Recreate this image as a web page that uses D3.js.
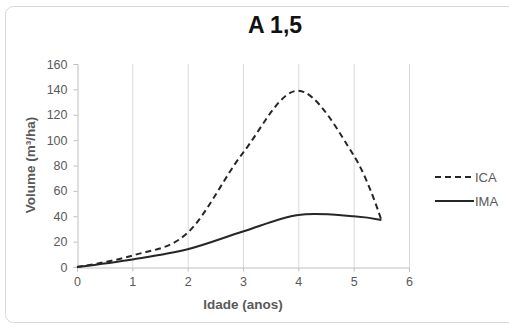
<!DOCTYPE html>
<html>
<head>
<meta charset="utf-8">
<script src="https://cdn.jsdelivr.net/npm/d3@7"></script>
<style>
  body { margin: 0; background: #fff; }
  text { font-family: "Liberation Sans", Arial, sans-serif; }
</style>
</head>
<body>
<div id="chart"></div>
<script>
// ages (anos)
const idade = [0, 1, 2, 3, 4, 5, 5.5];
// ICA and IMA volume (m3/ha)
const ica = [0, 9, 27, 90, 139, 88, 37];
const ima = [0, 6, 14, 28, 41, 40, 37];
const xTicks = [0, 1, 2, 3, 4, 5, 6];
const yTicks = [0, 20, 40, 60, 80, 100, 120, 140, 160];
const seriesNames = ["ICA", "IMA"];

const width = 509, height = 327;
const margin = {top: 64, right: 100, bottom: 60, left: 77};

const svg = d3.select("#chart").append("svg")
  .attr("width", width)
  .attr("height", height);

// outer frame
svg.append("rect")
  .attr("x", 5.5).attr("y", 6.5)
  .attr("width", 512).attr("height", 316)
  .attr("rx", 8)
  .attr("fill", "#fff")
  .attr("stroke", "#d9d9d9");

const x = d3.scaleLinear().domain([0, 6]).range([margin.left, 409]);
const y = d3.scaleLinear().domain([0, 160]).range([267, margin.top]);

// vertical gridlines
svg.append("g")
  .selectAll("line")
  .data(xTicks.slice(1))
  .enter().append("line")
  .attr("x1", d => x(d) + 0.5).attr("x2", d => x(d) + 0.5)
  .attr("y1", y(160)).attr("y2", y(0))
  .attr("stroke", "#d9d9d9");

// axes
const xAxis = svg.append("g")
  .attr("transform", "translate(0," + (y(0) + 0.5) + ")")
  .call(d3.axisBottom(x).tickValues(xTicks).tickFormat(d3.format("d")).tickSize(4).tickPadding(6));
const yAxis = svg.append("g")
  .attr("transform", "translate(" + (x(0) + 0.5) + ",0)")
  .call(d3.axisLeft(y).tickValues(yTicks).tickSize(4).tickPadding(6));

[xAxis, yAxis].forEach(a => {
  a.select(".domain").attr("stroke", "#bfbfbf");
  a.selectAll(".tick line").attr("stroke", "#bfbfbf");
  a.selectAll(".tick text")
    .attr("fill", "#595959")
    .style("font-size", "12.5px")
    .style("font-family", "'Liberation Sans', Arial, sans-serif");
});

// lines (Excel-like smoothing)
const line = d3.line()
  .x((d, i) => x(idade[i]))
  .y(d => y(d))
  .curve(d3.curveCardinal.tension(0));

svg.append("path")
  .datum(ica)
  .attr("d", line)
  .attr("fill", "none")
  .attr("stroke", "#262626")
  .attr("stroke-width", 2)
  .attr("stroke-dasharray", "6,4");

svg.append("path")
  .datum(ima)
  .attr("d", line)
  .attr("fill", "none")
  .attr("stroke", "#262626")
  .attr("stroke-width", 2);

// title
svg.append("text")
  .attr("x", 275).attr("y", 33)
  .attr("text-anchor", "middle")
  .style("font-size", "23px")
  .style("font-weight", "bold")
  .attr("fill", "#111")
  .text("A 1,5");

// axis titles
svg.append("text")
  .attr("x", x(3)).attr("y", 309)
  .attr("text-anchor", "middle")
  .style("font-size", "13.5px")
  .style("font-weight", "bold")
  .attr("fill", "#595959")
  .text("Idade (anos)");

svg.append("text")
  .attr("transform", "translate(35,165) rotate(-90)")
  .attr("text-anchor", "middle")
  .style("font-size", "13.5px")
  .style("font-weight", "bold")
  .attr("fill", "#595959")
  .text("Volume (m³/ha)");

// legend
const legend = svg.append("g").attr("transform", "translate(435,177)");
seriesNames.forEach((name, i) => {
  const g = legend.append("g").attr("transform", "translate(0," + (i * 24) + ")");
  g.append("line")
    .attr("x1", 0).attr("x2", 39)
    .attr("stroke", "#262626")
    .attr("stroke-width", 2)
    .attr("stroke-dasharray", i === 0 ? "6,4" : null);
  g.append("text")
    .attr("x", 40).attr("y", 5)
    .style("font-size", "13px")
    .attr("fill", "#595959")
    .text(name);
});
</script>
</body>
</html>
